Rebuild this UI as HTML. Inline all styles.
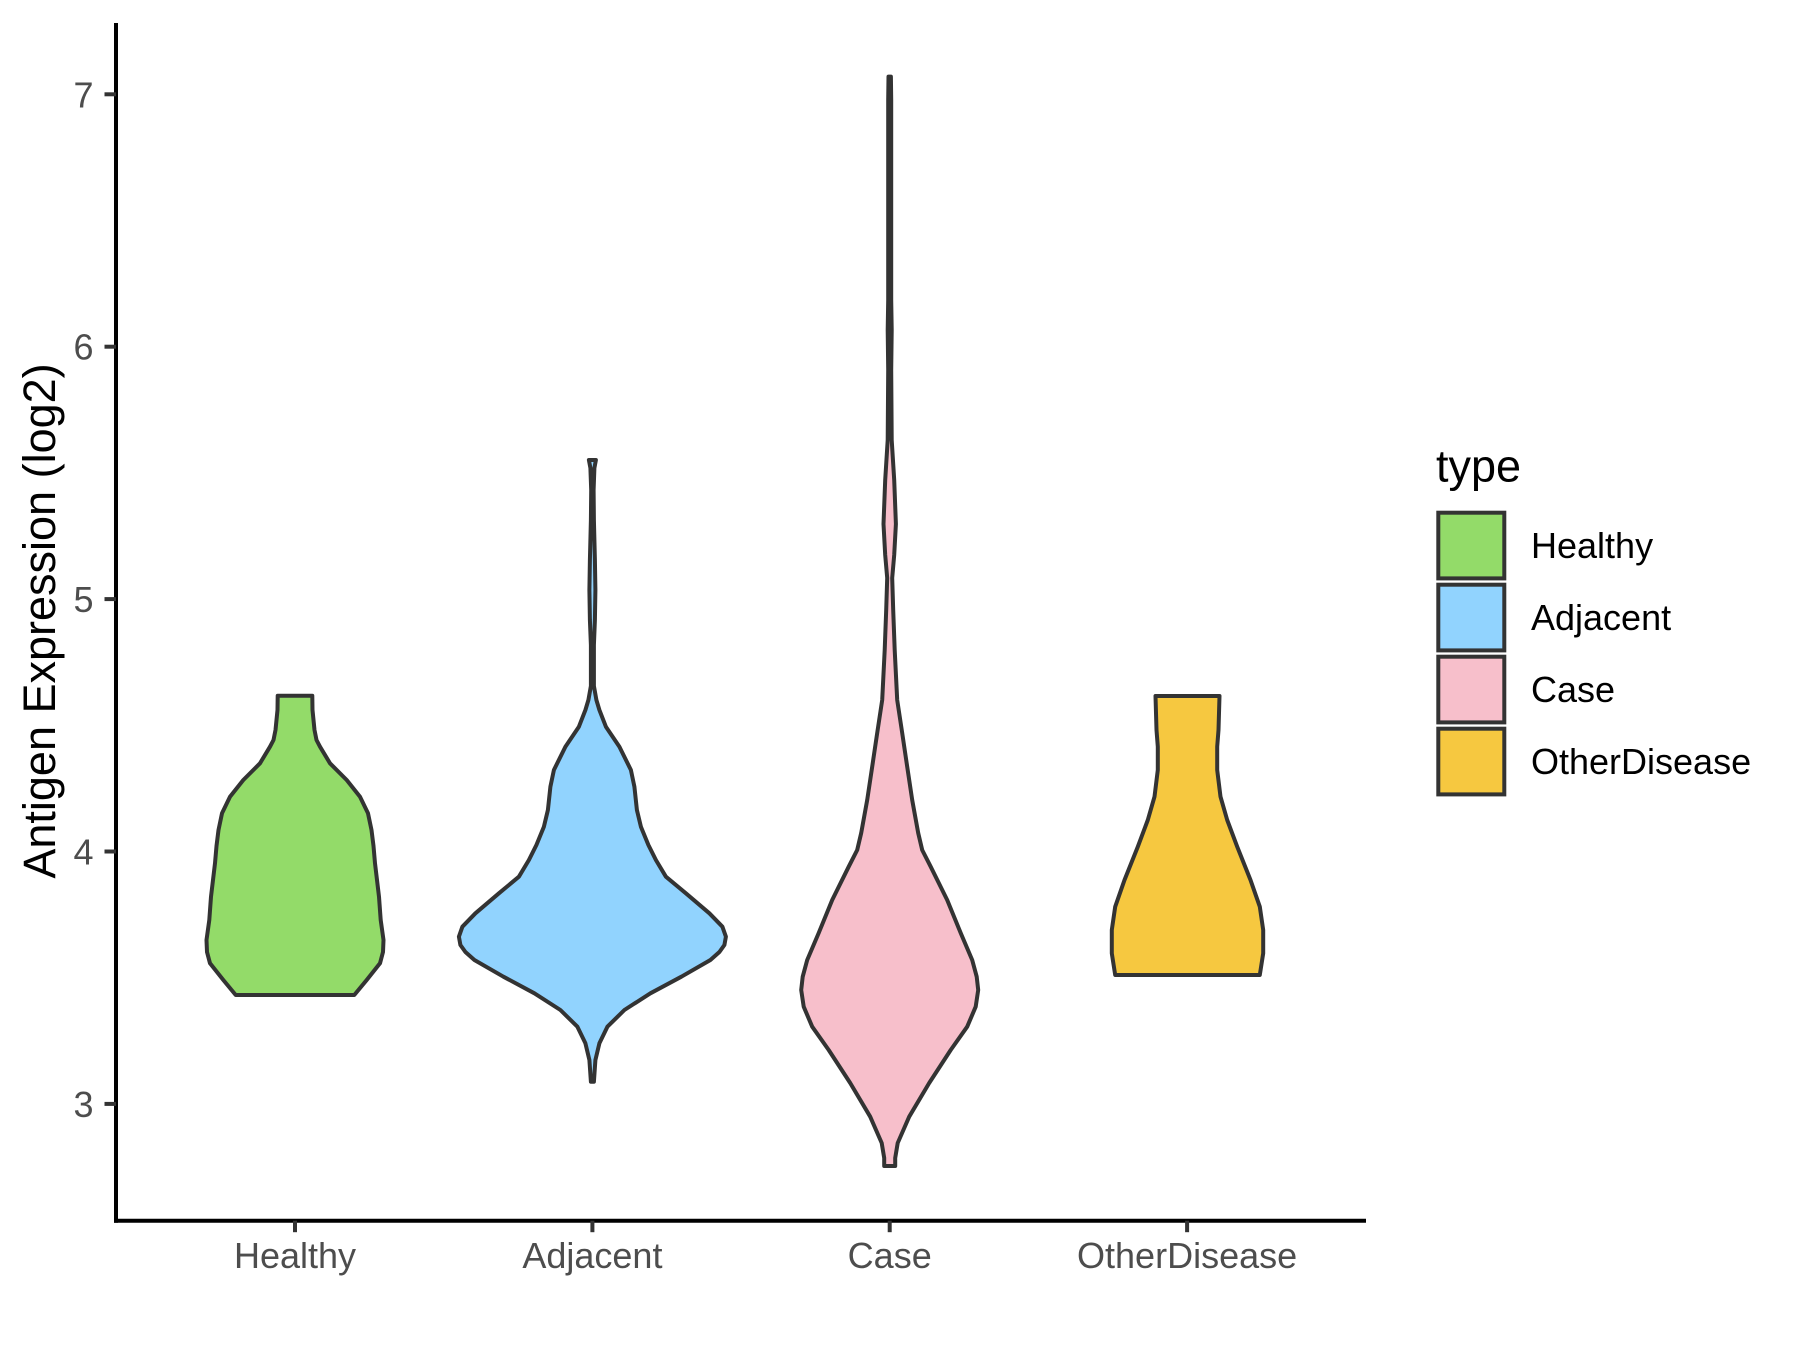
<!DOCTYPE html>
<html>
<head>
<meta charset="utf-8">
<style>
  html, body { margin: 0; padding: 0; background: #ffffff; }
  svg { display: block; }
  text { font-family: "Liberation Sans", Arial, sans-serif; }
</style>
</head>
<body>
<svg width="1800" height="1350" viewBox="0 0 1800 1350" xmlns="http://www.w3.org/2000/svg">
  <rect x="0" y="0" width="1800" height="1350" fill="#ffffff"/>

  <!-- Violins -->
  <g stroke="#333333" stroke-width="4" stroke-linejoin="round">
    <!-- Healthy -->
    <polygon fill="#93DB69" points="
      277.7,695.7 312.3,695.7 312.5,710 314.5,730 316.5,740 320,746.7 330,763.3 346.7,780 360,796.7 368,813.3 371.5,830 373.5,846 375,863.3 379,896.7 380.7,920 383.5,940 383,952 380,963.3 366.7,980 354.3,995
      235.7,995 223.3,980 210,963.3 207,952 206.5,940 209.3,920 211,896.7 215,863.3 216.5,846 218.5,830 222,813.3 230,796.7 243.3,780 260,763.3 270,746.7 273.5,740 275.5,730 277.5,710"/>

    <!-- Adjacent -->
    <polygon fill="#91D3FE" points="
      588.9,460 595.9,460 594.4,468 593.6,490 593.9,520 594.9,560 595.4,590 594.9,620 593.9,645 593.9,686 596.4,700 599.4,710 605.9,726.7 619.4,746.7 630.9,770 634.4,786.7 636.9,810 640.9,826.7 648.4,845 655.9,860 665.9,876.7 685.9,893.3 709.4,913.3 722.4,926.7 725.9,936.7 724.4,945 719.4,952 710.4,960 681.4,976.7 650.4,993.3 624.4,1010 607.4,1026.7 599.4,1043.3 595.4,1060 593.9,1081.7
      590.9,1081.7 589.4,1060 585.4,1043.3 577.4,1026.7 560.4,1010 534.4,993.3 503.4,976.7 474.4,960 465.4,952 460.4,945 458.9,936.7 462.4,926.7 475.4,913.3 498.9,893.3 518.9,876.7 528.9,860 536.4,845 543.9,826.7 547.9,810 550.4,786.7 553.9,770 565.4,746.7 578.9,726.7 585.4,710 588.4,700 590.9,686 590.9,645 589.9,620 589.4,590 589.9,560 590.9,520 591.2,490 590.4,468"/>

    <!-- Case -->
    <polygon fill="#F7BFCB" points="
      888.5,76.6 890.9,76.6 891.2,100 891.2,300 891.7,330 891.2,370 891.7,440 894.2,480 895.9,524 894.2,555 892.2,578 893.2,610 894.7,650 897.2,700 902.2,733 907.2,766.7 912.2,800 918.2,833 922.2,850 930.7,866.7 947.2,900 960.7,933 972.2,960 976.7,976.7 978.2,990 975.7,1006.7 967.2,1026.7 950.7,1050 929.2,1083 909.2,1116.7 897.7,1143 895.2,1158 895.2,1166
      884.2,1166 884.2,1158 881.7,1143 870.2,1116.7 850.2,1083 828.7,1050 812.2,1026.7 803.7,1006.7 801.2,990 802.7,976.7 807.2,960 818.7,933 832.2,900 848.7,866.7 857.2,850 861.2,833 867.2,800 872.2,766.7 877.2,733 882.2,700 884.7,650 886.2,610 887.2,578 885.2,555 883.5,524 885.2,480 887.7,440 888.2,370 887.7,330 888.2,300 888.2,100"/>

    <!-- OtherDisease -->
    <polygon fill="#F6C840" points="
      1155.5,696 1219.5,696 1218.5,730 1217.2,746.7 1217.2,770 1220.5,796.7 1227.2,820 1237.2,846.7 1250.5,880 1259.8,906.7 1263.2,930 1263.2,953.3 1259.8,975
      1115.2,975 1111.8,953.3 1111.8,930 1115.2,906.7 1124.5,880 1137.8,846.7 1147.8,820 1154.5,796.7 1157.8,770 1157.8,746.7 1156.5,730"/>
  </g>

  <!-- Axes -->
  <g stroke="#000000" stroke-width="4" fill="none">
    <line x1="116" y1="23" x2="116" y2="1222.7"/>
    <line x1="114" y1="1220.7" x2="1366" y2="1220.7"/>
  </g>
  <!-- Y ticks -->
  <g stroke="#333333" stroke-width="4">
    <line x1="104.5" y1="94.3" x2="116" y2="94.3"/>
    <line x1="104.5" y1="346.7" x2="116" y2="346.7"/>
    <line x1="104.5" y1="599.1" x2="116" y2="599.1"/>
    <line x1="104.5" y1="851.5" x2="116" y2="851.5"/>
    <line x1="104.5" y1="1103.9" x2="116" y2="1103.9"/>
  </g>
  <!-- X ticks -->
  <g stroke="#333333" stroke-width="4">
    <line x1="295" y1="1220.7" x2="295" y2="1232.2"/>
    <line x1="592.4" y1="1220.7" x2="592.4" y2="1232.2"/>
    <line x1="889.7" y1="1220.7" x2="889.7" y2="1232.2"/>
    <line x1="1187.1" y1="1220.7" x2="1187.1" y2="1232.2"/>
  </g>

  <!-- Y tick labels -->
  <g fill="#4D4D4D" font-size="36" text-anchor="end">
    <text x="93.5" y="107.3">7</text>
    <text x="93.5" y="359.7">6</text>
    <text x="93.5" y="612.1">5</text>
    <text x="93.5" y="864.5">4</text>
    <text x="93.5" y="1116.9">3</text>
  </g>

  <!-- X tick labels -->
  <g fill="#4D4D4D" font-size="36" text-anchor="middle">
    <text x="295" y="1268">Healthy</text>
    <text x="592.4" y="1268">Adjacent</text>
    <text x="889.7" y="1268">Case</text>
    <text x="1187.1" y="1268">OtherDisease</text>
  </g>

  <!-- Y axis title -->
  <text transform="translate(55,621) rotate(-90)" text-anchor="middle" font-size="45" fill="#000000">Antigen Expression (log2)</text>

  <!-- Legend -->
  <text x="1436" y="481.7" font-size="45" fill="#000000">type</text>
  <g stroke="#333333" stroke-width="4">
    <rect x="1438.3" y="512.7" width="66" height="65.7" fill="#93DB69"/>
    <rect x="1438.3" y="584.7" width="66" height="65.7" fill="#91D3FE"/>
    <rect x="1438.3" y="656.7" width="66" height="65.7" fill="#F7BFCB"/>
    <rect x="1438.3" y="728.7" width="66" height="65.7" fill="#F6C840"/>
  </g>
  <g font-size="36" fill="#000000">
    <text x="1531" y="558">Healthy</text>
    <text x="1531" y="630">Adjacent</text>
    <text x="1531" y="702">Case</text>
    <text x="1531" y="774">OtherDisease</text>
  </g>
</svg>
</body>
</html>
